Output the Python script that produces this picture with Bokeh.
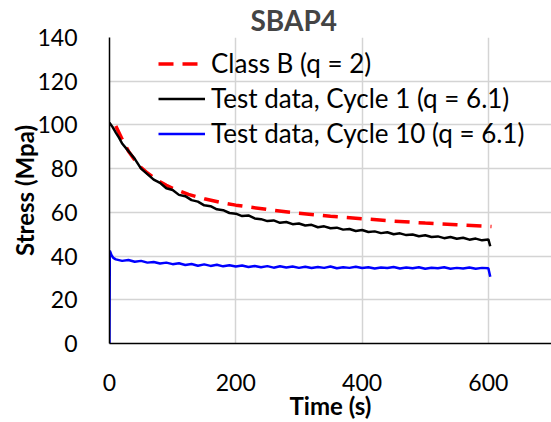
from bokeh.plotting import figure
from bokeh.models import FixedTicker, Legend, LegendItem, Range1d
from bokeh.embed import file_html
from bokeh.resources import INLINE

# ---- data ----
classb_t = [10, 20, 30, 40, 50, 60, 70, 80, 90, 100, 125, 150, 175, 200, 250,
            300, 350, 400, 450, 500, 550, 605]
classb_s = [99.5, 93.5, 88.0, 84.0, 80.5, 78.0, 76.0, 74.0, 72.4, 71.0, 68.2, 66.2,
            64.6, 63.3, 61.3, 59.6, 58.2, 57.1, 56.0, 55.1, 54.3, 53.5]

cyc1_t = [0, 5, 10, 15, 20, 30, 40, 50, 60, 70, 80, 90, 100, 110, 120, 130, 140, 150,
          160, 170, 180, 190, 200, 210, 220, 230, 240, 250, 260, 270, 280, 290, 300,
          310, 320, 330, 340, 350, 360, 370, 380, 390, 400, 410, 420, 430, 440, 450,
          460, 470, 480, 490, 500, 510, 520, 530, 540, 550, 560, 570, 580, 590, 600, 603]
cyc1_s = [101.0, 99.0, 96.5, 94.2, 91.5, 88.0, 84.5, 80.0, 77.5, 75.0, 73.5, 71.0,
          70.2, 68.0, 67.4, 65.6, 64.9, 63.2, 62.8, 61.4, 61.0, 59.7, 59.4, 58.3,
          58.6, 57.2, 56.9, 56.0, 56.3, 55.2, 55.6, 54.6, 54.9, 54.0, 54.3, 53.2,
          53.6, 52.7, 53.0, 52.1, 52.4, 51.5, 51.9, 51.0, 51.3, 50.5, 50.9, 50.0,
          50.4, 49.6, 49.9, 49.1, 49.5, 48.7, 49.0, 48.2, 48.7, 47.9, 48.4, 47.5,
          48.0, 47.2, 47.6, 44.5]

cyc10_t = [0, 0.5, 3, 6, 10, 20, 30, 40, 50, 60, 70, 80, 90, 100, 110, 120, 130, 140,
           150, 160, 170, 180, 190, 200, 210, 220, 230, 240, 250, 260, 270, 280, 290,
           300, 310, 320, 330, 340, 350, 360, 370, 380, 390, 400, 410, 420, 430, 440,
           450, 460, 470, 480, 490, 500, 510, 520, 530, 540, 550, 560, 570, 580, 590,
           600, 603]
cyc10_s = [0.0, 42.5, 40.5, 39.2, 38.5, 37.8, 38.2, 37.4, 37.8, 37.0, 37.3, 36.6,
           37.0, 36.3, 36.7, 35.9, 36.4, 35.6, 36.2, 35.5, 36.0, 35.3, 35.8, 35.2,
           35.7, 35.0, 35.5, 34.9, 35.4, 34.7, 35.3, 34.8, 35.2, 34.6, 35.1, 34.5,
           35.0, 34.6, 35.2, 34.4, 34.9, 34.6, 35.1, 34.5, 34.9, 34.3, 34.8, 34.5,
           35.0, 34.3, 34.8, 34.4, 34.9, 34.2, 34.7, 34.4, 34.9, 34.2, 34.6, 34.3,
           34.8, 34.2, 34.6, 34.4, 30.5]

x_ticks = [0, 200, 400, 600]
y_ticks = [0, 20, 40, 60, 80, 100, 120, 140]

FONT = "Lato"

p = figure(width=551, height=422, output_backend="svg", toolbar_location=None,
           x_range=Range1d(0, 700), y_range=Range1d(0, 140),
           min_border_left=109, min_border_right=0, min_border_top=35,
           min_border_bottom=79)
p.outline_line_color = None
p.background_fill_color = "white"

p.title.text = "SBAP4"
p.title.text_font = FONT
p.title.text_font_size = "28px"
p.title.text_font_style = "bold"
p.title.align = "left"
p.title.offset = 141
p.title.standoff = 1

for ax in (p.xaxis[0], p.yaxis[0]):
    ax.axis_line_color = "black"
    ax.axis_line_width = 1.5
    ax.major_tick_line_color = None
    ax.minor_tick_line_color = None
    ax.major_label_text_font = FONT
    ax.major_label_text_font_size = "23px"
    ax.major_label_text_color = "black"
    ax.axis_label_text_font = FONT
    ax.axis_label_text_font_size = "24px"
    ax.axis_label_text_font_style = "bold"
    ax.axis_label_text_color = "black"

p.xaxis.ticker = FixedTicker(ticks=x_ticks)
p.yaxis.ticker = FixedTicker(ticks=y_ticks)
p.xaxis.axis_label = "Time (s)"
p.yaxis.axis_label = "Stress (Mpa)"
p.xaxis.major_label_standoff = 24
p.yaxis.major_label_standoff = 26
p.xaxis.axis_label_standoff = -3
p.yaxis.axis_label_standoff = -5

p.xgrid.ticker = FixedTicker(ticks=x_ticks)
p.ygrid.ticker = FixedTicker(ticks=y_ticks)
p.grid.grid_line_color = "#d4d4d4"
p.grid.grid_line_width = 1.5

r_b = p.line(classb_t, classb_s, line_color="#ff0000", line_width=3.5, line_dash="15 9")
r_1 = p.line(cyc1_t, cyc1_s, line_color="black", line_width=2.5)
r_10 = p.line(cyc10_t, cyc10_s, line_color="#0000ff", line_width=2.5)

legend = Legend(items=[
    LegendItem(label="Class B (q = 2)", renderers=[r_b]),
    LegendItem(label="Test data, Cycle 1 (q = 6.1)", renderers=[r_1]),
    LegendItem(label="Test data, Cycle 10 (q = 6.1)", renderers=[r_10]),
], location=(49, 194))
legend.border_line_color = None
legend.background_fill_alpha = 0
legend.padding = 0
legend.margin = 0
legend.spacing = 3
legend.glyph_width = 47
legend.glyph_height = 31
legend.label_height = 31
legend.label_standoff = 6
legend.label_text_font = FONT
legend.label_text_font_size = "26px"
legend.label_text_color = "black"
p.add_layout(legend)

open("out.html", "w").write(file_html(p, INLINE))
